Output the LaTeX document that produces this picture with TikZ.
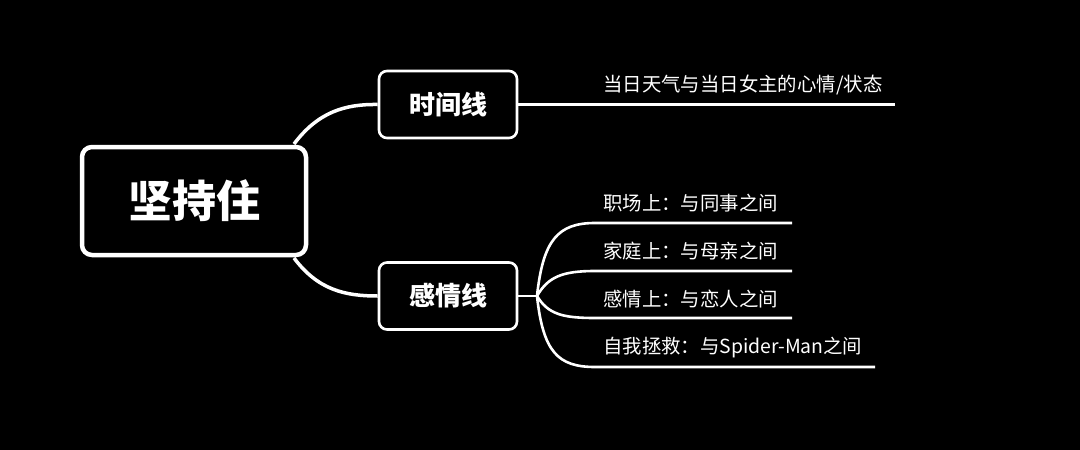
\documentclass[tikz,border=0pt]{standalone}
\usepackage{fontspec}
\newfontfamily\cjk{Noto Sans CJK SC}
\begin{document}
\begin{tikzpicture}[x=1pt,y=-1pt,
  mainbox/.style={draw=white,line width=4.5pt,rounded corners=10pt,fill=black,
    minimum width=224pt,minimum height=108pt,inner sep=0pt,text=white,
    font=\cjk\bfseries\fontsize{44}{44}\selectfont},
  subbox/.style={draw=white,line width=2.6pt,rounded corners=8pt,fill=black,
    minimum width=138pt,minimum height=67pt,inner sep=0pt,text=white,
    font=\cjk\bfseries\fontsize{26}{26}\selectfont},
  leaf/.style={anchor=west,inner sep=0pt,text=white,
    font=\cjk\fontsize{19.4}{19.4}\selectfont},
  thickcon/.style={draw=white,line width=3.5pt},
  thincon/.style={draw=white,line width=2.6pt}]
\useasboundingbox[fill=black] (0,0) rectangle (1080,450);

% connectors from center
\coordinate (c1) at (294,144);
\coordinate (c2) at (294,258);
\node[subbox] (time) at (448,104.5) {时间线};
\node[subbox] (emo) at (448,296) {感情线};
\draw[thickcon] (c1) .. controls (318,112) and (345,104) .. (time.west);
\draw[thickcon] (c2) .. controls (318,290) and (345,296) .. (emo.west);
\node[mainbox] (main) at (194,201) {坚持住};

% top leaf
\node[leaf] (t1) at (603,84.5) {当日天气与当日女主的心情/状态};
\coordinate (t1e) at (895,103);
\draw[thincon] (time.east) -- (time.east -| t1e);

% lower leaves
\coordinate (bp) at (537,296);
\draw[thincon] (emo.east) -- (bp);
\node[leaf] (l1) at (603,203.5) {职场上：与同事之间};
\node[leaf] (l2) at (603,251.5) {家庭上：与母亲之间};
\node[leaf] (l3) at (603,299.5) {感情上：与恋人之间};
\node[leaf] (l4) at (603,347.5) {自我拯救：与Spider-Man之间};
\coordinate (e1) at (792,223);
\coordinate (e2) at (792,271);
\coordinate (e3) at (792,318);
\coordinate (e4) at (875,367);
\draw[thincon] (bp) .. controls (543,240) and (558,223) .. (595,223) -- (e1);
\draw[thincon] (bp) .. controls (548,277) and (562,271) .. (595,271) -- (e2);
\draw[thincon] (bp) .. controls (548,314) and (562,318) .. (595,318) -- (e3);
\draw[thincon] (bp) .. controls (543,352) and (558,367) .. (595,367) -- (e4);
\end{tikzpicture}
\end{document}
